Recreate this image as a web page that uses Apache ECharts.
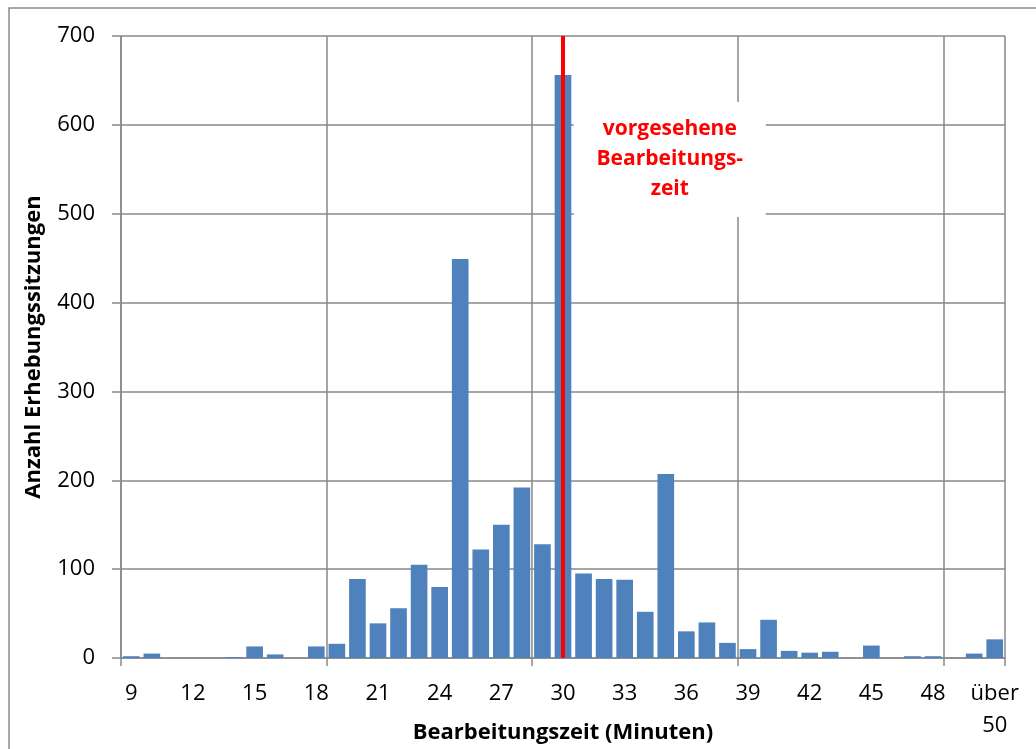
<!DOCTYPE html>
<html>
<head>
<meta charset="utf-8">
<script src="https://cdn.jsdelivr.net/npm/echarts@6/dist/echarts.min.js"></script>
<style>
html,body{margin:0;padding:0;background:#fff;}
#chart{width:1036px;height:749px;}
</style>
</head>
<body>
<div id="chart"></div>
<script>
// Categories: minutes 9..50 and "über 50"
const categories = ['9','10','11','12','13','14','15','16','17','18','19','20','21','22','23','24','25','26','27','28','29','30','31','32','33','34','35','36','37','38','39','40','41','42','43','44','45','46','47','48','49','50','über\n50'];
// Number of sessions per category
const sessions = [2,5,0,0,0,1,13,4,0,13,16,89,39,56,105,80,449,122,150,192,128,656,95,89,88,52,207,30,40,17,10,43,8,6,7,0,14,0,2,2,0,5,21];
const yTicks = { min: 0, max: 700, interval: 100 };
const plannedTime = '30';
const annotationText = 'vorgesehene\nBearbeitungs-\nzeit';
const xTitle = 'Bearbeitungszeit (Minuten)';
const yTitle = 'Anzahl Erhebungssitzungen';

const gridColor = '#898989';
const font = 'Open Sans';

const chart = echarts.init(document.getElementById('chart'), null, { renderer: 'canvas' });
chart.setOption({
  backgroundColor: '#ffffff',
  animation: false,
  textStyle: { fontFamily: font },
  graphic: [{
    type: 'rect',
    shape: { x: 9, y: 8, width: 1200, height: 900 },
    style: { fill: 'none', stroke: '#8a8a8a', lineWidth: 1.5 },
    silent: true
  }],
  grid: { left: 121, right: 31, top: 36, bottom: 91, containLabel: false, outerBoundsMode: 'none' },
  xAxis: {
    type: 'category',
    data: categories,
    boundaryGap: true,
    name: xTitle,
    nameLocation: 'middle',
    nameGap: 64,
    nameMoveOverlap: false,
    nameTextStyle: { fontFamily: font, fontSize: 22, fontWeight: 'bold', color: '#000' },
    axisLine: { show: true, lineStyle: { color: gridColor, width: 1.5 } },
    axisTick: { show: true, length: 8, interval: (i) => i % 10 === 0, lineStyle: { color: gridColor, width: 1.5 } },
    axisLabel: { interval: 2, margin: 20, fontFamily: font, fontSize: 22, color: '#000', lineHeight: 32 },
    splitLine: { show: true, interval: (i) => i % 10 === 0, lineStyle: { color: gridColor, width: 1.5 } }
  },
  yAxis: {
    type: 'value',
    min: yTicks.min, max: yTicks.max, interval: yTicks.interval,
    name: yTitle,
    nameLocation: 'middle',
    nameGap: 76,
    nameRotate: 90,
    nameMoveOverlap: false,
    nameTextStyle: { fontFamily: font, fontSize: 22, fontWeight: 'bold', color: '#000' },
    axisLine: { show: true, lineStyle: { color: gridColor, width: 1.5 } },
    axisTick: { show: true, length: 9, lineStyle: { color: gridColor, width: 1.5 } },
    axisLabel: { margin: 26, fontFamily: font, fontSize: 22, color: '#000' },
    splitLine: { show: true, lineStyle: { color: gridColor, width: 1.5 } }
  },
  series: [{
    type: 'bar',
    data: sessions,
    barCategoryGap: '19%',
    itemStyle: { color: '#4F81BD' },
    markLine: {
      silent: true,
      symbol: ['none', 'none'],
      label: { show: false },
      lineStyle: { color: '#FF0000', width: 4, type: 'solid' },
      data: [{ xAxis: plannedTime }]
    },
    markPoint: {
      silent: true,
      symbol: 'rect',
      symbolSize: [192, 115],
      symbolOffset: [4, 0],
      itemStyle: { color: '#ffffff' },
      label: {
        show: true,
        position: 'inside',
        formatter: annotationText,
        color: '#FF0000',
        fontFamily: font,
        fontWeight: 'bold',
        fontSize: 21,
        lineHeight: 30,
        align: 'center'
      },
      data: [{ coord: ['35', 561] }]
    }
  }]
});
</script>
</body>
</html>
